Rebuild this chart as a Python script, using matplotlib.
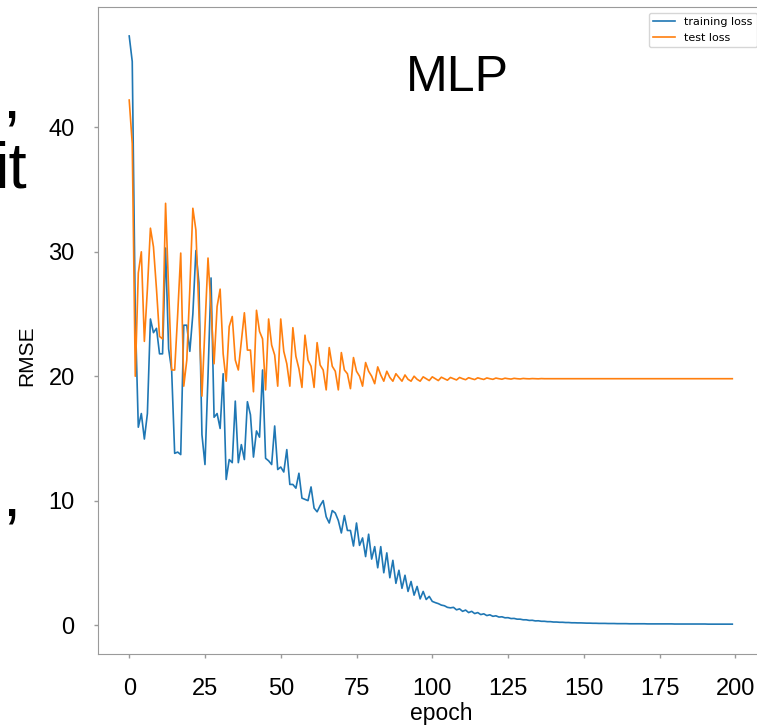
import matplotlib
matplotlib.use("Agg")
import matplotlib.pyplot as plt

epochs = list(range(200))

train_loss = [
    47.35, 45.3, 25.0, 15.9, 17.0, 14.95, 17.0, 24.6, 23.5, 23.85,
    21.8, 21.8, 30.3, 22.2, 20.5, 13.8, 13.9, 13.7, 24.1, 24.1,
    22.0, 25.0, 30.1, 27.5, 15.3, 12.9, 20.0, 27.9, 16.7, 17.0,
    15.8, 20.2, 11.7, 13.3, 13.05, 18.0, 13.05, 14.5, 13.3, 17.95,
    16.9, 13.5, 15.6, 15.1, 20.5, 13.4, 13.2, 12.9, 16.0, 12.5,
    12.7, 12.3, 14.1, 11.3, 11.3, 11.0, 12.2, 10.2, 10.1, 10.0,
    11.1, 9.4, 9.1, 9.6, 10.0, 8.7, 8.2, 9.2, 9.0, 8.4,
    7.4, 8.8, 7.6, 7.6, 6.35, 8.2, 6.4, 7.0, 5.5, 7.3,
    5.3, 6.3, 4.6, 6.3, 4.2, 5.8, 3.8, 5.2, 3.35, 4.4,
    2.95, 4.0, 2.7, 3.5, 2.4, 3.1, 2.1, 2.7, 2.05, 2.3,
    1.9, 1.8, 1.72, 1.6, 1.55, 1.42, 1.38, 1.42, 1.22, 1.3,
    1.1, 1.2, 1.0, 1.1, 0.92, 1.0, 0.84, 0.9, 0.76, 0.82,
    0.7, 0.74, 0.64, 0.66, 0.58, 0.59, 0.52, 0.53, 0.47, 0.47,
    0.42, 0.42, 0.37, 0.38, 0.33, 0.34, 0.3, 0.3, 0.27, 0.27,
    0.24, 0.24, 0.22, 0.22, 0.2, 0.2, 0.18, 0.18, 0.17, 0.17,
    0.16, 0.15, 0.15, 0.14, 0.14, 0.13, 0.13, 0.13, 0.12, 0.12,
    0.12, 0.11, 0.11, 0.11, 0.11, 0.1, 0.1, 0.1, 0.1, 0.1,
    0.1, 0.09, 0.09, 0.09, 0.09, 0.09, 0.09, 0.09, 0.09, 0.09,
    0.08, 0.08, 0.08, 0.08, 0.08, 0.08, 0.08, 0.08, 0.08, 0.08,
    0.08, 0.07, 0.07, 0.07, 0.07, 0.07, 0.07, 0.07, 0.07, 0.07,
]

test_loss = [
    42.2, 38.7, 20.0, 28.3, 30.0, 22.8, 27.0, 31.9, 30.4, 27.0,
    23.2, 23.0, 33.9, 27.0, 20.5, 20.5, 25.0, 29.9, 19.2, 21.3,
    27.0, 33.5, 31.75, 25.0, 18.4, 24.0, 29.5, 25.5, 21.0, 25.6,
    27.0, 21.8, 19.6, 24.0, 24.8, 21.3, 20.5, 22.8, 25.1, 22.1,
    22.1, 18.75, 25.3, 23.6, 23.0, 18.9, 24.6, 22.5, 21.7, 19.2,
    24.6, 22.0, 21.0, 19.2, 23.9, 21.6, 20.6, 19.1, 23.3, 21.3,
    20.8, 19.1, 22.7, 20.9, 20.5, 18.9, 22.3, 20.8, 20.4, 18.9,
    21.9, 20.5, 20.2, 19.0, 21.5, 20.4, 20.0, 19.2, 21.1, 20.4,
    20.0, 19.4, 20.75, 20.1, 19.6, 20.4, 19.9, 19.6, 20.2, 19.9,
    19.6, 20.1, 19.75, 19.6, 20.0, 19.75, 19.6, 19.95, 19.8, 19.65,
    19.95, 19.8, 19.65, 19.92, 19.8, 19.68, 19.9, 19.8, 19.7, 19.9,
    19.8, 19.72, 19.88, 19.8, 19.73, 19.87, 19.8, 19.74, 19.86, 19.8,
    19.75, 19.85, 19.8, 19.76, 19.84, 19.8, 19.77, 19.83, 19.8, 19.78,
    19.82, 19.8, 19.79, 19.81, 19.8, 19.79, 19.81, 19.8, 19.8, 19.8,
    19.8, 19.8, 19.8, 19.8, 19.8, 19.8, 19.8, 19.8, 19.8, 19.8,
    19.8, 19.8, 19.8, 19.8, 19.8, 19.8, 19.8, 19.8, 19.8, 19.8,
    19.8, 19.8, 19.8, 19.8, 19.8, 19.8, 19.8, 19.8, 19.8, 19.8,
    19.8, 19.8, 19.8, 19.8, 19.8, 19.8, 19.8, 19.8, 19.8, 19.8,
    19.8, 19.8, 19.8, 19.8, 19.8, 19.8, 19.8, 19.8, 19.8, 19.8,
    19.8, 19.8, 19.8, 19.8, 19.8, 19.8, 19.8, 19.8, 19.8, 19.8,
]

x_ticks = [0, 25, 50, 75, 100, 125, 150, 175, 200]
y_ticks = [0, 10, 20, 30, 40]

W, H = 757, 726
fig = plt.figure(figsize=(W / 100, H / 100), dpi=100)

# axes box in pixels (right edge runs past the image, like the screenshot)
left_px, right_px, top_px, bottom_px = 98.3, 762.6, 7, 654
ax = fig.add_axes([left_px / W, 1 - bottom_px / H,
                   (right_px - left_px) / W, (bottom_px - top_px) / H])

ax.plot(epochs, train_loss, color="#1f77b4", lw=1.2, label="training loss")
ax.plot(epochs, test_loss, color="#ff7f0e", lw=1.2, label="test loss")

ax.set_xlim(-10.2, 209)
ax.set_ylim(-2.33, 49.68)
ax.set_xticks(x_ticks)
ax.set_yticks(y_ticks)

grey = "#9a9a9a"
for s in ax.spines.values():
    s.set_color(grey)
ax.tick_params(colors=grey, labelcolor="black", length=3, width=1)
ax.tick_params(axis="x", pad=14)
ax.tick_params(axis="y", pad=14)
for lab in ax.get_xticklabels() + ax.get_yticklabels():
    lab.set_fontfamily("Liberation Sans")
    lab.set_fontsize(17)

ax.set_xlabel("epoch", fontsize=16.5, family="Liberation Sans", va="top")
ax.xaxis.set_label_coords((441.5 - left_px) / (right_px - left_px),
                          -(702 - bottom_px) / (bottom_px - top_px))
ax.set_ylabel("RMSE", fontsize=15, family="Liberation Sans", va="center")
ax.yaxis.set_label_coords((27 - left_px) / (right_px - left_px),
                          1 - (356 - top_px) / (bottom_px - top_px))

ax.legend(loc="upper right", fontsize=8)

fig.text(406 / W, 1 - 90.7 / H, "MLP", fontsize=36, family="Liberation Sans",
         ha="left", va="baseline")

# bits of slide text peeking in on the left
fig.text(20 / W, 1 - 118 / H, ",", fontsize=47, family="Liberation Sans",
         ha="right", va="baseline")
fig.text(27 / W, 1 - 188 / H, "it", fontsize=47, family="Liberation Sans",
         ha="right", va="baseline")
fig.text(20 / W, 1 - 515 / H, ",", fontsize=47, family="Liberation Sans",
         ha="right", va="baseline")

fig.savefig("out.png", dpi=100)
